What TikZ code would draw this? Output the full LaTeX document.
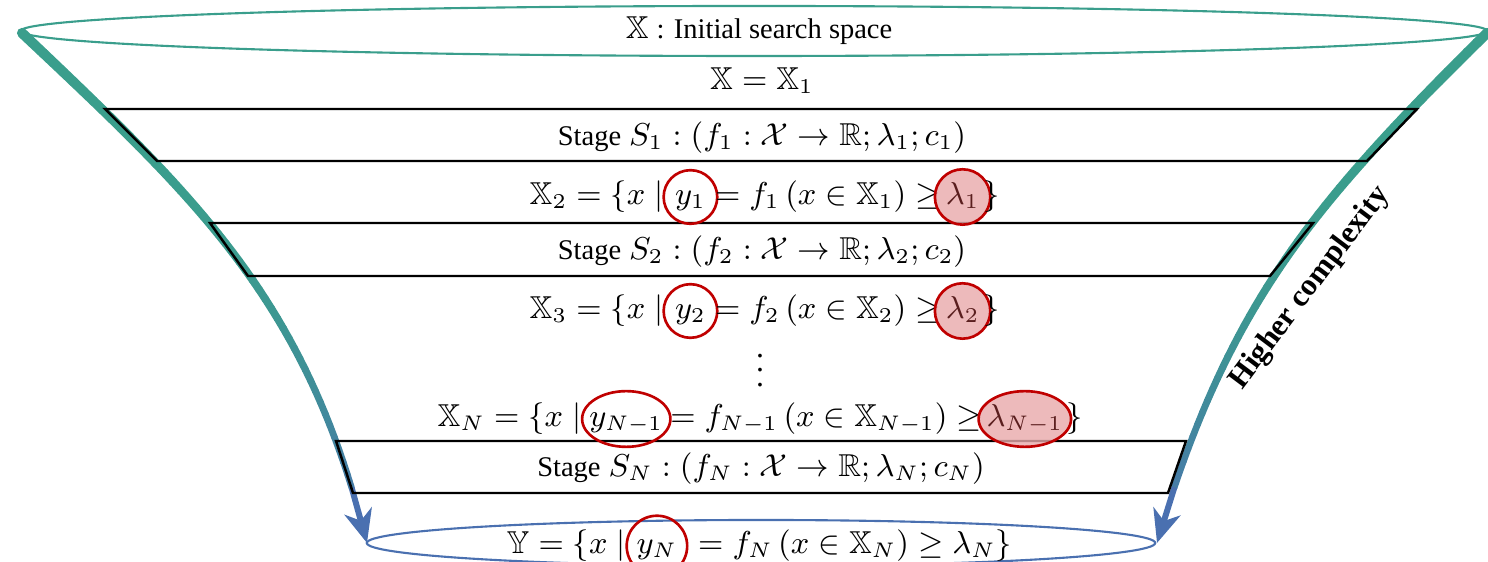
\documentclass[tikz,border=0pt]{standalone}
\usepackage{amssymb}
\usepackage[no-math]{fontspec}
\setmainfont{Liberation Serif}
\usetikzlibrary{arrows.meta, positioning, shapes.geometric, calc}
\definecolor{fteal}{HTML}{3A9E8C}
\definecolor{fblue}{HTML}{4A70B0}
\definecolor{hred}{HTML}{C00000}
\definecolor{hpink}{HTML}{E8A9AA}
\definecolor{ltext}{HTML}{5A1E1E}
\newcommand{\wordfont}{\fontsize{8.1}{9.5}\selectfont}
\tikzset{
  txt/.style={inner sep=0pt, text height=7pt, text depth=2.6pt},
  ring/.style={txt, circle, draw=hred, line width=0.75pt, inner sep=0.8pt},
  ringf/.style={ring, fill=hpink, fill opacity=0.8, text opacity=1, text=ltext},
  oval/.style={txt, ellipse, draw=hred, line width=0.75pt, inner xsep=-1.6pt, inner ysep=0.8pt},
  ovalf/.style={oval, fill=hpink, fill opacity=0.8, text opacity=1, text=ltext},
  stagebox/.style={draw=black, line width=0.7pt, line join=miter},
  rim/.style={line width=0.6pt}
}

\begin{document}
\begin{tikzpicture}[x=0.01cm, y=-0.01cm, font=\fontsize{9}{10.5}\selectfont]
  \useasboundingbox (0,0) rectangle (1488,562);
  % funnel rims
  \draw[rim, fteal] (754,31) ellipse [x radius=7.33cm, y radius=0.25cm];
  \draw[rim, fblue] (761,543) ellipse [x radius=3.94cm, y radius=0.23cm];
  % funnel sides
  \coordinate (l0) at (22,33);\coordinate (l1) at (202,203);\coordinate (l2) at (307,303);\coordinate (l3) at (367,543);
  \coordinate (r0) at (1487,33);\coordinate (r1) at (1318,200);\coordinate (r2) at (1228,300);\coordinate (r3) at (1157,543);
  \foreach \sd in {l,r}{
    \foreach \i in {1,...,46}{
      \pgfmathsetmacro\ta{(\i-1)/50}
      \pgfmathsetmacro\tb{\i/50}
      \pgfmathtruncatemacro\mix{100*(1-\tb^4)}
      \pgfmathsetmacro\lw{2.9-1.2*\tb}
      \path (\sd0) .. controls (\sd1) and (\sd2) .. (\sd3) coordinate[pos=\ta] (sa) coordinate[pos=\tb] (sb);
      \draw[line width=\lw pt, line cap=round, color=fteal!\mix!fblue] (sa) -- (sb);
    }
    \path (\sd0) .. controls (\sd1) and (\sd2) .. (\sd3) coordinate[pos=0.92] (sa);
    \draw[fblue, line width=1.7pt, -{Stealth[length=0.33cm, width=0.28cm, inset=0.1cm]}] (sa) -- (\sd3);
  }
  % stages
  \draw[stagebox] (105,109) -- (1417,109) -- (1367,161) -- (157,161) -- cycle;
  \draw[stagebox] (210,223) -- (1313,223) -- (1270,276) -- (248,276) -- cycle;
  \draw[stagebox] (336,441) -- (1186,441) -- (1168,493) -- (353,493) -- cycle;
  \node[anchor=base] (init) at (759,39) {$\mathbb{X}$ {\wordfont : Initial search space}};
  \node[anchor=base] (xone) at (762,90) {$\mathbb{X}=\mathbb{X}_1$};
  \node[anchor=base] (s1) at (762,146) {{\wordfont Stage} $S_1:(f_1:\mathcal{X}\to\mathbb{R};\lambda_1;c_1)$};
  \node[anchor=base] (s2) at (762,260) {{\wordfont Stage} $S_2:(f_2:\mathcal{X}\to\mathbb{R};\lambda_2;c_2)$};
  \node[anchor=base] (sn) at (761,477) {{\wordfont Stage} $S_N:(f_N:\mathcal{X}\to\mathbb{R};\lambda_N;c_N)$};
  % filtered sets
  \node[txt, anchor=west] (x2a) at (529,197) {$\mathbb{X}_2=\{x\mid$};
  \node[ring, right=-0.5pt of x2a] (y1) {$y_1$};
  \node[txt, right=-1.2pt of y1] (x2b) {$=f_1\left(x\in\mathbb{X}_1\right)\geq$};
  \node[ringf, right=-2.2pt of x2b] (lam1) {$\lambda_1$};
  \node[txt, right=-2.6pt of lam1] (x2c) {$\}$};
  \node[txt, anchor=west] (x3a) at (529,311) {$\mathbb{X}_3=\{x\mid$};
  \node[ring, right=-0.5pt of x3a] (y2) {$y_2$};
  \node[txt, right=-1.2pt of y2] (x3b) {$=f_2\left(x\in\mathbb{X}_2\right)\geq$};
  \node[ringf, right=-2.2pt of x3b] (lam2) {$\lambda_2$};
  \node[txt, right=-2.6pt of lam2] (x3c) {$\}$};
  \node (dots) at (760,360) {$\vdots$};
  \node[txt, anchor=west] (xna) at (437,419) {$\mathbb{X}_N=\{x\mid$};
  \node[oval, right=-0.3pt of xna] (yn1) {$y_{N-1}$};
  \node[txt, right=-0.6pt of yn1] (xnb) {$=f_{N-1}\left(x\in\mathbb{X}_{N-1}\right)\geq$};
  \node[ovalf, right=-1.5pt of xnb] (lamn1) {$\lambda_{N-1}$};
  \node[txt, right=-1.8pt of lamn1] (xnc) {$\}$};
  \node[txt, anchor=west] (ya) at (506,546) {$\mathbb{Y}=\{x\mid$};
  \node[ring, right=-0.3pt of ya] (yn) {$y_N$};
  \node[txt, right=0pt of yn] (yb) {${}=f_N\left(x\in\mathbb{X}_N\right)\geq\lambda_N\}$};
  \node[rotate=53, font=\fontsize{8.8}{10}\selectfont\bfseries] (hc) at (1310,288) {Higher complexity};
\end{tikzpicture}
\end{document}
